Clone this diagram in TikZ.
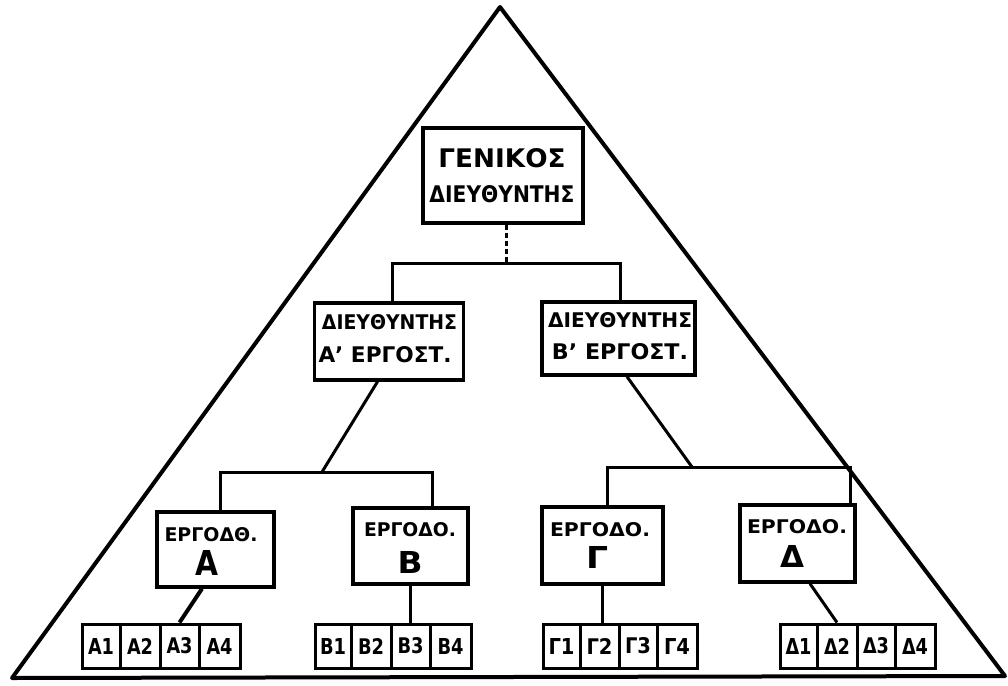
\documentclass[tikz,border=0pt]{standalone}
\usepackage{fontspec}
\setmainfont{DejaVu Sans}
\usepackage{graphicx}
\usetikzlibrary{calc}
\newcommand{\fitt}[3]{\resizebox{#1}{#2}{\bfseries #3}}
\begin{document}
\begin{tikzpicture}[x=1pt,y=-1pt,
  box/.style={draw,line width=3.4pt,minimum width=#1,inner sep=0pt},
  cell/.style={draw,line width=3pt,minimum width=#1,minimum height=44pt,inner sep=0pt},
  txt/.style={inner sep=0pt},
  conn/.style={line width=3pt},
  tri/.style={line width=4pt,line join=round}]
\fill[white] (0,0) rectangle (1008,685);
\useasboundingbox (0,0) rectangle (1008,685);
% triangle
\draw[tri] (500,7) -- (12,678) -- (1005,676) -- cycle;
% general director
\node[box=160pt,minimum height=95pt] (gen) at (503,175.5) {};
\node[txt] (genT1) at (502,158) {\fitt{127pt}{19pt}{ΓΕΝΙΚΟΣ}};
\node[txt] (genT2) at (502,194) {\fitt{145pt}{17pt}{ΔΙΕΥΘΥΝΤΗΣ}};
% factory directors
\node[box=149pt,minimum height=77pt] (dirA) at (389,341.5) {};
\node[txt] (dirAT1) at (389.5,322) {\fitt{135pt}{15pt}{ΔΙΕΥΘΥΝΤΗΣ}};
\node[txt] (dirAT2) at (385,355) {\fitt{133pt}{16pt}{Α' ΕΡΓΟΣΤ.}};
\node[box=153pt,minimum height=73pt] (dirB) at (618.5,338.5) {};
\node[txt] (dirBT1) at (620,320) {\fitt{144pt}{15pt}{ΔΙΕΥΘΥΝΤΗΣ}};
\node[txt] (dirBT2) at (620,352) {\fitt{136pt}{16pt}{Β' ΕΡΓΟΣΤ.}};
% foremen
\node[box=117pt,minimum height=75pt] (ergA) at (215.5,549.5) {};
\node[txt] (ergAT1) at (211,535) {\fitt{93pt}{14pt}{ΕΡΓΟΔΘ.}};
\node[txt] (ergAT2) at (207,563) {\fitt{23pt}{25pt}{Α}};
\node[box=115pt,minimum height=76pt] (ergB) at (410.5,546) {};
\node[txt] (ergBT1) at (410,530) {\fitt{92pt}{14pt}{ΕΡΓΟΔΟ.}};
\node[txt] (ergBT2) at (410,562) {\fitt{25pt}{22pt}{Β}};
\node[box=121pt,minimum height=77pt] (ergG) at (602.5,545.5) {};
\node[txt] (ergGT1) at (600,530) {\fitt{100pt}{14pt}{ΕΡΓΟΔΟ.}};
\node[txt] (ergGT2) at (597,557) {\fitt{22pt}{22pt}{Γ}};
\node[box=115pt,minimum height=77pt] (ergD) at (797.5,543.5) {};
\node[txt] (ergDT1) at (797,527) {\fitt{100pt}{14pt}{ΕΡΓΟΔΟ.}};
\node[txt] (ergDT2) at (792,556) {\fitt{24pt}{22pt}{Δ}};
% cells
\foreach \n/\l/\r/\t in {a1/82/120/Α1,a2/120/160/Α2,a3/160/199/Α3,a4/199/240/Α4,
  b1/315/351/Β1,b2/351/391/Β2,b3/391/430/Β3,b4/430/471/Β4,
  g1/543/580/Γ1,g2/580/619/Γ2,g3/619/657/Γ3,g4/657/697/Γ4,
  d1/780/817/Δ1,d2/817/857/Δ2,d3/857/895/Δ3,d4/895/935/Δ4}{
  \pgfmathsetmacro{\cx}{(\l+\r)/2}
  \pgfmathsetmacro{\w}{\r-\l}
  \node[cell=\w pt] (\n) at (\cx,646) {\fitt{26pt}{16pt}{\t}};
}
% connectors
\coordinate (hub) at (506,263);
\coordinate (ja) at (322,472);
\coordinate (jb) at (692,467);
\draw[conn,dash pattern=on 5pt off 3pt] (gen.south -| hub) -- (hub);
\draw[conn] ([xshift=3pt]dirA.north) |- (hub) -| ([xshift=1.5pt]dirB.north);
\draw[conn] ([xshift=-11.5pt]dirA.south) -- (ja);
\draw[conn] ([xshift=4.5pt]ergA.north) |- (ja) -| ([xshift=21.5pt]ergB.north);
\draw[conn] ([xshift=8.5pt]dirB.south) -- (jb);
\draw[conn] ([xshift=4.5pt]ergG.north) |- (jb) -| ([xshift=52.5pt]ergD.north);
\draw[line width=4pt] ([xshift=-13.5pt]ergA.south) -- (a3.north);
\draw[conn] (ergB.south) -- (ergB.south |- b3.north);
\draw[line width=3.6pt] (ergG.south) -- (ergG.south |- g2.north);
\draw[conn] ([xshift=12.5pt]ergD.south) -- (d2.north);
\end{tikzpicture}
\end{document}
